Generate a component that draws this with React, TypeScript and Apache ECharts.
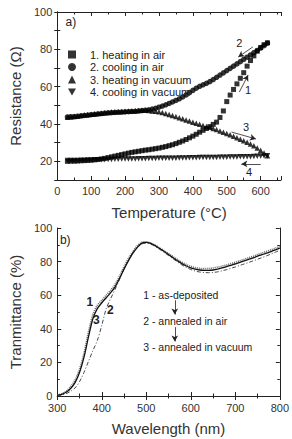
import React, { useEffect, useRef } from "react";
import * as echarts from "echarts";

// ---- Panel a) : resistance vs temperature ----
const temps = [
  30, 40, 50, 60, 70, 80, 90, 100, 110, 120, 130, 140, 150, 160, 170, 180, 190, 200, 210, 220,
  230, 240, 250, 260, 270, 280, 290, 300, 310, 320, 330, 340, 350, 360, 370, 380, 390, 400, 410, 420,
  430, 440, 450, 460, 470, 480, 490, 500, 510, 520, 530, 540, 550, 560, 570, 580, 590, 600, 610, 620,
];
const heatingAir = [
  20.0, 20.1, 20.1, 20.2, 20.3, 20.4, 20.5, 20.6, 20.8, 21.0, 21.3, 21.6, 22.0, 22.4, 22.8, 23.2, 23.6, 24.0, 24.4, 24.8,
  25.1, 25.4, 25.7, 26.0, 26.2, 26.5, 26.8, 27.1, 27.5, 27.9, 28.4, 28.9, 29.5, 30.2, 30.9, 31.7, 32.6, 33.5, 34.5, 35.6,
  36.6, 37.6, 38.6, 39.8, 41.0, 43.5, 47.0, 52.0, 55.5, 58.5, 61.5, 64.5, 67.5, 71.0, 74.0, 76.5, 79.0, 81.0, 82.5, 83.5,
];
const coolingAir = [
  43.8, 43.9, 44.0, 44.2, 44.4, 44.6, 44.8, 45.0, 45.2, 45.4, 45.6, 45.8, 46.0, 46.1, 46.2, 46.3, 46.4, 46.5, 46.6, 46.7,
  46.8, 47.0, 47.2, 47.4, 47.6, 48.0, 48.4, 49.0, 49.6, 50.3, 51.0, 51.8, 52.6, 53.5, 54.5, 55.6, 56.8, 58.0, 59.2, 60.2,
  61.0, 61.8, 62.7, 63.8, 65.0, 66.2, 67.4, 68.6, 69.8, 71.0, 72.2, 73.4, 74.6, 75.8, 77.0, 78.2, 79.4, 80.7, 82.0, 83.3,
];
const heatingVacuum = [
  43.6, 43.8, 44.0, 44.2, 44.5, 44.8, 45.0, 45.2, 45.4, 45.6, 45.8, 46.0, 46.2, 46.4, 46.5, 46.6, 46.7, 46.8, 46.9, 47.0,
  47.1, 47.2, 47.3, 47.3, 47.2, 47.0, 46.8, 46.5, 46.1, 45.6, 45.1, 44.6, 44.0, 43.4, 42.8, 42.2, 41.6, 41.0, 40.4, 39.8,
  39.2, 38.7, 38.2, 37.6, 37.0, 36.3, 35.6, 34.9, 34.2, 33.4, 32.6, 31.8, 31.0, 30.2, 29.3, 28.3, 27.2, 26.0, 24.5, 23.0,
];
const coolingVacuum = [
  20.4, 20.4, 20.5, 20.5, 20.6, 20.6, 20.7, 20.7, 20.8, 20.8, 20.9, 20.9, 21.0, 21.0, 21.1, 21.1, 21.2, 21.2, 21.3, 21.3,
  21.3, 21.4, 21.4, 21.4, 21.5, 21.5, 21.5, 21.6, 21.6, 21.6, 21.7, 21.7, 21.7, 21.8, 21.8, 21.8, 21.9, 21.9, 21.9, 22.0,
  22.0, 22.0, 22.1, 22.1, 22.1, 22.2, 22.2, 22.2, 22.3, 22.3, 22.3, 22.4, 22.4, 22.5, 22.5, 22.6, 22.7, 22.8, 22.9, 23.0,
];
const resistanceNames = [
  "1. heating in air",
  "2. cooling in air",
  "3. heating in vacuum",
  "4. cooling in vacuum",
];

// ---- Panel b) : transmittance vs wavelength ----
const wavelengths = [
  300, 310, 320, 330, 340, 350, 360, 370, 380, 390, 400, 410, 420, 430, 440, 450, 460, 470, 480, 490,
  500, 510, 520, 530, 540, 550, 560, 570, 580, 590, 600, 610, 620, 630, 640, 650, 660, 670, 680, 690,
  700, 710, 720, 730, 740, 750, 760, 770, 780, 790, 800,
];
const asDeposited = [
  0.6, 1.3, 2.8, 5.5, 9.5, 16.0, 25.5, 38.0, 48.5, 54.0, 57.0, 60.0, 63.0, 66.5, 71.5, 77.0, 82.0, 86.0, 89.5, 91.5,
  91.8, 91.0, 89.8, 88.2, 86.5, 84.8, 83.0, 81.3, 79.7, 78.3, 77.2, 76.4, 76.0, 75.8, 75.9, 76.2, 76.7, 77.3, 78.0, 78.8,
  79.6, 80.5, 81.4, 82.3, 83.2, 84.2, 85.1, 86.1, 87.0, 88.0, 89.0,
];
const annealedAir = [
  0.3, 0.6, 1.4, 2.8, 4.8, 8.5, 14.0, 20.5, 27.0, 33.0, 42.0, 52.0, 58.0, 63.5, 69.5, 75.5, 81.0, 85.5, 88.5, 90.5,
  91.0, 90.3, 89.0, 87.3, 85.5, 83.6, 81.7, 79.8, 78.0, 76.5, 75.3, 74.4, 73.8, 73.5, 73.4, 73.5, 73.9, 74.5, 75.2, 76.0,
  76.8, 77.7, 78.6, 79.5, 80.4, 81.4, 82.4, 83.4, 84.5, 85.6, 86.7,
];
const annealedVacuum = [
  0.5, 1.0, 2.2, 4.5, 8.0, 14.0, 23.0, 35.0, 46.0, 52.0, 55.5, 58.5, 61.5, 65.0, 70.0, 75.5, 80.5, 85.0, 88.5, 91.0,
  91.5, 90.8, 89.5, 87.8, 86.0, 84.2, 82.3, 80.5, 78.8, 77.4, 76.3, 75.5, 75.0, 74.8, 74.8, 75.0, 75.5, 76.2, 77.0, 77.8,
  78.6, 79.5, 80.4, 81.3, 82.2, 83.2, 84.1, 85.0, 86.0, 87.0, 88.0,
];
const transNames = ["1 - as-deposited", "2 - annealed in air", "3 - annealed in vacuum"];

const FONT = "Liberation Sans, Arial, sans-serif";
const INK = "#222";

function pairs(xs: number[], ys: number[]) {
  return xs.map((x, i) => [x, ys[i]]);
}

export default function App() {
  const ref = useRef<HTMLDivElement>(null);
  useEffect(() => {
    if (!ref.current) return;
    const chart = echarts.init(ref.current, null, { renderer: "svg" });

    const axisLine = { show: true, lineStyle: { color: INK, width: 1 } };
    const labelStyle = { color: "#333", fontSize: 11, fontFamily: FONT };
    const nameStyle = { color: "#333", fontSize: 15, fontFamily: FONT };

    const arrowLine = (a: number[], b: number[]) => [{ coord: a }, { coord: b }];
    const markLineBase = {
      silent: true,
      symbol: ["none", "arrow"],
      symbolSize: [5, 6],
      label: { show: false },
      lineStyle: { color: INK, width: 0.8, type: "solid" },
      animation: false,
    };

    const symbols = ["rect", "circle", "triangle", "path://M0,0L10,0L5,9Z"];
    const resSeries = [heatingAir, coolingAir, heatingVacuum, coolingVacuum].map((vals, i) => ({
      type: "scatter",
      name: resistanceNames[i],
      xAxisIndex: 0,
      yAxisIndex: 0,
      symbol: symbols[i],
      symbolSize: i === 0 ? 5 : 5.5,
      itemStyle: { color: "#000" },
      data: pairs(temps, vals),
      z: 3,
    }));
    (resSeries[0] as any).markLine = {
      ...markLineBase,
      data: [
        arrowLine([577, 81.3], [534, 75.9]),
        arrowLine([537, 57.1], [563, 66.2]),
        arrowLine([514, 35.7], [586, 32.0]),
        arrowLine([600, 18.6], [543, 18.6]),
      ],
    };

    const lineStyles = [
      { color: "#666", width: 1.6, type: [1, 1] },
      { color: "#333", width: 0.9, type: [4, 2, 1, 2] },
      { color: "#111", width: 1.3, type: "solid" },
    ];
    const transSeries = [asDeposited, annealedAir, annealedVacuum].map((vals, i) => ({
      type: "line",
      name: transNames[i],
      xAxisIndex: 2,
      yAxisIndex: 2,
      showSymbol: false,
      symbol: "none",
      smooth: 0.3,
      lineStyle: lineStyles[i],
      data: pairs(wavelengths, vals),
    }));
    (transSeries[2] as any).markLine = {
      ...markLineBase,
      data: [arrowLine([564, 57], [564, 48.5]), arrowLine([564, 41], [564, 32.5])],
    };

    const option: any = {
      animation: false,
      textStyle: { fontFamily: FONT },
      grid: [
        { left: 48, top: 12, width: 233, height: 168 },
        { left: 48, top: 228, width: 233, height: 168 },
      ],
      legend: {
        data: resistanceNames,
        orient: "vertical",
        left: 63,
        top: 44,
        itemWidth: 8,
        itemHeight: 8,
        itemGap: 1.5,
        textStyle: { color: INK, fontSize: 11, lineHeight: 11, fontFamily: FONT, padding: [0, 0, 0, 9] },
        selectedMode: false,
      },
      xAxis: [
        {
          gridIndex: 0, type: "value", min: 0, max: 660, interval: 100, position: "bottom",
          axisLine, splitLine: { show: false },
          axisTick: { inside: true, length: 4, lineStyle: { color: INK } },
          minorTick: { show: true, splitNumber: 2, length: 2.5, lineStyle: { color: INK } },
          axisLabel: { ...labelStyle, margin: 5, showMaxLabel: false, formatter: (v: number) => (v % 100 === 0 ? String(v) : "") },
          name: "Temperature (°C)", nameLocation: "middle", nameGap: 25, nameTextStyle: nameStyle,
        },
        {
          gridIndex: 0, type: "value", min: 0, max: 660, interval: 100, position: "top",
          axisLine, splitLine: { show: false }, axisLabel: { show: false },
          axisTick: { inside: true, length: 4, lineStyle: { color: INK } },
          minorTick: { show: true, splitNumber: 2, length: 2.5, lineStyle: { color: INK } },
        },
        {
          gridIndex: 1, type: "value", min: 300, max: 800, interval: 100, position: "bottom",
          axisLine, splitLine: { show: false },
          axisTick: { inside: true, length: 4, lineStyle: { color: INK } },
          minorTick: { show: true, splitNumber: 2, length: 2.5, lineStyle: { color: INK } },
          axisLabel: { ...labelStyle, margin: 6 },
          name: "Wavelength (nm)", nameLocation: "middle", nameGap: 25, nameTextStyle: nameStyle,
        },
        {
          gridIndex: 1, type: "value", min: 300, max: 800, interval: 100, position: "top",
          axisLine, splitLine: { show: false }, axisLabel: { show: false },
          axisTick: { inside: true, length: 4, lineStyle: { color: INK } },
          minorTick: { show: true, splitNumber: 2, length: 2.5, lineStyle: { color: INK } },
        },
      ],
      yAxis: [
        {
          gridIndex: 0, type: "value", min: 10, max: 100, interval: 10, position: "left",
          axisLine, splitLine: { show: false },
          axisTick: { inside: true, length: 3, lineStyle: { color: INK } },
          axisLabel: { ...labelStyle, margin: 5, formatter: (v: number) => (v % 20 === 0 ? String(v) : "") },
          name: "Resistance (Ω)", nameLocation: "middle", nameGap: 29, nameTextStyle: nameStyle,
        },
        {
          gridIndex: 0, type: "value", min: 10, max: 100, interval: 10, position: "right",
          axisLine, splitLine: { show: false }, axisLabel: { show: false },
          axisTick: { inside: true, length: 3, lineStyle: { color: INK } },
        },
        {
          gridIndex: 1, type: "value", min: 0, max: 100, interval: 20, position: "left",
          axisLine, splitLine: { show: false },
          axisTick: { inside: true, length: 4, lineStyle: { color: INK } },
          minorTick: { show: true, splitNumber: 2, length: 2.5, lineStyle: { color: INK } },
          axisLabel: { ...labelStyle, margin: 5 },
          name: "Tranmittance (%)", nameLocation: "middle", nameGap: 29, nameTextStyle: nameStyle,
        },
        {
          gridIndex: 1, type: "value", min: 0, max: 100, interval: 20, position: "right",
          axisLine, splitLine: { show: false }, axisLabel: { show: false },
          axisTick: { inside: true, length: 4, lineStyle: { color: INK } },
          minorTick: { show: true, splitNumber: 2, length: 2.5, lineStyle: { color: INK } },
        },
      ],
      series: [...resSeries, ...transSeries],
    };
    chart.setOption(option);

    const topPx = (p: number[]) => chart.convertToPixel({ xAxisIndex: 0, yAxisIndex: 0 }, p) as number[];
    const botPx = (p: number[]) => chart.convertToPixel({ xAxisIndex: 2, yAxisIndex: 2 }, p) as number[];
    const txt = (pt: number[], text: string, size: number, weight = "normal", align = "center") => ({
      type: "text",
      x: pt[0],
      y: pt[1],
      silent: true,
      style: {
        text, fill: INK, fontSize: size, fontWeight: weight, fontFamily: FONT,
        align, verticalAlign: "middle",
      },
    });
    const graphic = [
      txt(topPx([40, 94.5]), "a)", 12),
      txt(topPx([537, 83.4]), "2", 11),
      txt(topPx([563, 58.2]), "1", 11),
      txt(topPx([557, 38.4]), "3", 11),
      txt(topPx([566, 14.3]), "4", 11),
      txt(botPx([318, 93]), "b)", 12),
      txt(botPx([373, 56]), "1", 12, "bold"),
      txt(botPx([388, 45]), "3", 12, "bold"),
      txt(botPx([419, 51]), "2", 12, "bold"),
      txt(botPx([493, 60]), transNames[0], 10.5, "normal", "left"),
      txt(botPx([493, 44.4]), transNames[1], 10.5, "normal", "left"),
      txt(botPx([493, 29.4]), transNames[2], 10.5, "normal", "left"),
    ];
    chart.setOption({ graphic });

    return () => chart.dispose();
  }, []);

  return (
    <div
      ref={ref}
      style={{ position: "fixed", left: 0, top: 0, width: 292, height: 439, background: "#fff" }}
    />
  );
}
